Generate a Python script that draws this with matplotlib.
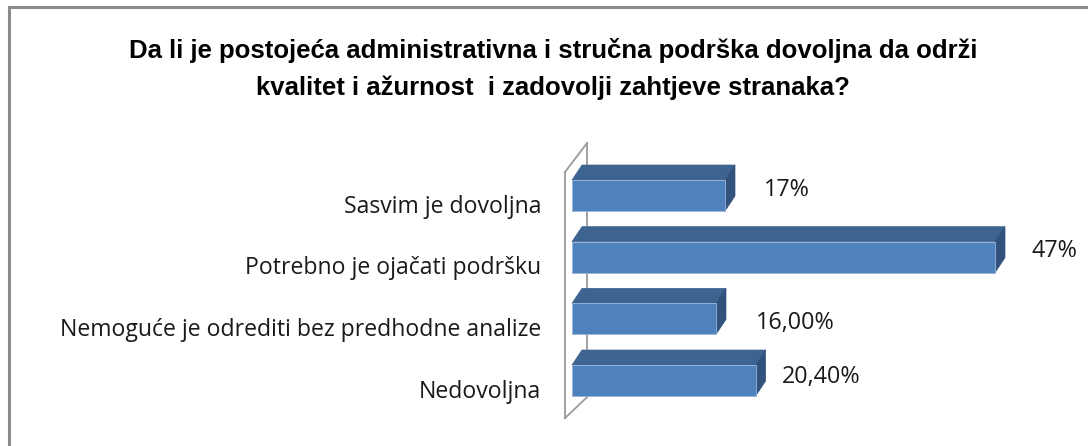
import matplotlib
matplotlib.use("Agg")
import matplotlib.pyplot as plt
from matplotlib.patches import Polygon, Rectangle

# data
categories = ["Sasvim je dovoljna", "Potrebno je ojačati podršku",
              "Nemoguće je odrediti bez predhodne analize", "Nedovoljna"]
values = [17, 47, 16.0, 20.4]
value_labels = ["17%", "47%", "16,00%", "20,40%"]
title = ("Da li je postojeća administrativna i stručna podrška dovoljna da održi\n"
         "kvalitet i ažurnost  i zadovolji zahtjeve stranaka?")

plt.rcParams['font.family'] = ['Liberation Sans', 'DejaVu Sans']
label_font = ['Open Sans', 'DejaVu Sans']

W, H = 1088, 446
fig = plt.figure(figsize=(W / 100, H / 100), dpi=100)

# outer chart border
fig.patches.append(Rectangle((9 / W, -0.1), 1.2, 1 - 7 / H + 0.1, transform=fig.transFigure,
                             fill=False, edgecolor="#8c8c8c", linewidth=2.2))

# axes: x=0 at pixel 572, 9 px per %
px0, px1 = 560, 1088
py0, py1 = 130, 440
ax = fig.add_axes([px0 / W, 1 - py1 / H, (px1 - px0) / W, (py1 - py0) / H])
ax.set_xlim((px0 - 572) / 9.0, (px1 - 572) / 9.0)
ax.set_ylim((py1 - 195.5) / 61.67, (py0 - 195.5) / 61.67)
ax.axis("off")

bar_h = 0.503
dx, dy = 1.11, -0.243

# back wall outline
wall_col = "#9a9a9a"
fx, bx = -0.78, 1.67
ax.plot([fx, fx], [-0.38, 3.61], color=wall_col, lw=1.3, clip_on=False)
ax.plot([bx, bx], [-0.85, 3.27], color=wall_col, lw=1.3, clip_on=False)
ax.plot([fx, bx], [-0.38, -0.85], color=wall_col, lw=1.3, clip_on=False)
ax.plot([fx, bx], [3.61, 3.27], color=wall_col, lw=1.3, clip_on=False)

ypos = list(range(len(values)))
ax.barh(ypos, values, height=bar_h, left=0, color="#4f81bd", edgecolor="#9bb5d8",
        linewidth=0.6, zorder=3)
for y, v in zip(ypos, values):
    top = y - bar_h / 2
    bot = y + bar_h / 2
    ax.add_patch(Polygon([(0, top), (v, top), (v + dx, top + dy), (dx, top + dy)],
                         closed=True, facecolor="#3d6391", edgecolor="#3d6391", lw=0.5, zorder=2))
    ax.add_patch(Polygon([(v, top), (v + dx, top + dy), (v + dx, bot + dy), (v, bot)],
                         closed=True, facecolor="#31527c", edgecolor="#31527c", lw=0.5, zorder=2))

# value labels (manually placed, as in the original)
label_dx = [4.3, 4.0, 4.4, 2.9]
label_dy = [-0.09, -0.1, 0.06, -0.06]
for y, v, lab, ox, oy in zip(ypos, values, value_labels, label_dx, label_dy):
    ax.text(v + ox, y + oy, lab, ha="left", va="center", fontsize=16.8,
            family=label_font, color="#1a1a1a")

# category labels
for y, cat in zip(ypos, categories):
    ax.text((541 - 572) / 9.0, y + 0.18, cat, ha="right", va="center", fontsize=16.6,
            family=label_font, color="#1a1a1a", clip_on=False)

fig.text(553 / W, 1 - 69 / H, title, ha="center", va="center", fontsize=18.5,
         fontweight="bold", linespacing=1.66, color="#000000")

fig.savefig("out.png", dpi=100)
